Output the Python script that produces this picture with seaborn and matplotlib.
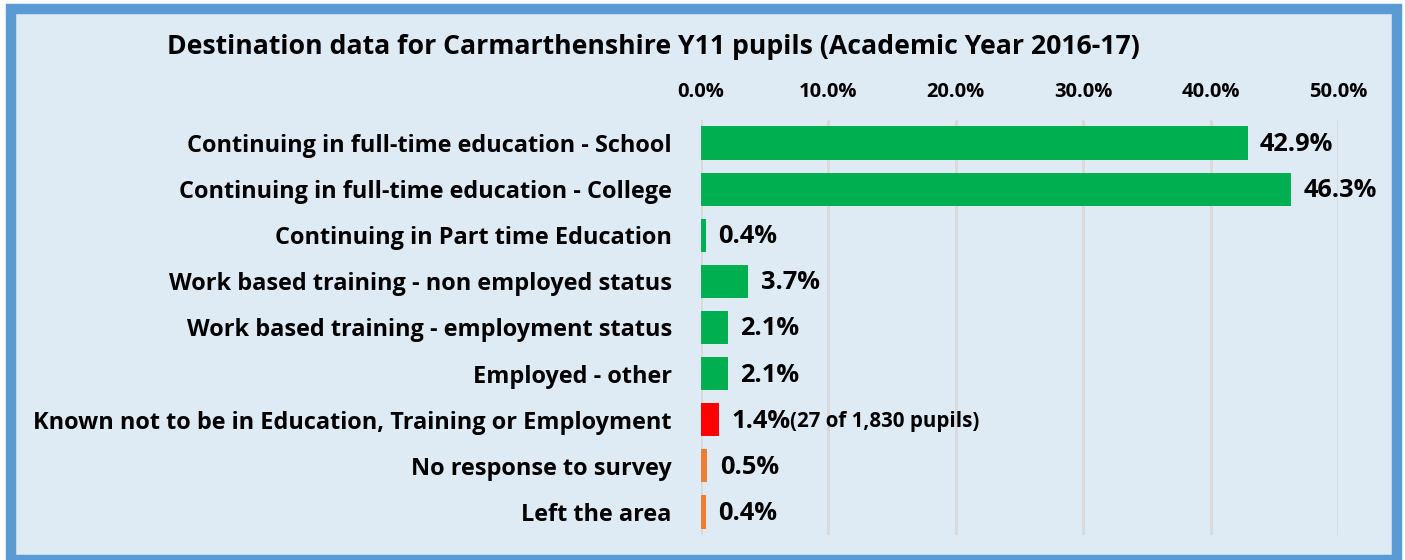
import matplotlib
matplotlib.use("Agg")
import matplotlib.pyplot as plt
from matplotlib.patches import Rectangle
import pandas as pd
import seaborn as sns

categories = [
    "Continuing in full-time education - School",
    "Continuing in full-time education - College",
    "Continuing in Part time Education",
    "Work based training - non employed status",
    "Work based training - employment status",
    "Employed - other",
    "Known not to be in Education, Training or Employment",
    "No response to survey",
    "Left the area",
]
values = [42.9, 46.3, 0.4, 3.7, 2.1, 2.1, 1.4, 0.5, 0.4]
bar_colors = ["#00B050"] * 6 + ["#FF0000"] + ["#ED7D31"] * 2
extra_note = {6: "(27 of 1,830 pupils)"}
ticks = [0, 10, 20, 30, 40, 50]

df = pd.DataFrame({"Category": categories, "Value": values})

sns.set_theme(style="white")
plt.rcParams["font.family"] = ["Open Sans", "DejaVu Sans"]
plt.rcParams["font.weight"] = "bold"
plt.rcParams["text.color"] = "black"
plt.rcParams["xtick.color"] = "black"
plt.rcParams["ytick.color"] = "black"

bg = "#DEEAF4"
fig = plt.figure(figsize=(14.05, 5.6), dpi=100)
fig.patch.set_facecolor("white")

# blue frame around the chart
W, H = 1405, 560
frame = Rectangle((10.5 / W, 0), (1396.5 - 10.5) / W, (H - 9) / H,
                  transform=fig.transFigure, facecolor=bg, edgecolor="#5B9BD5",
                  linewidth=7.5, zorder=-10)
fig.patches.append(frame)

ax = fig.add_axes([701 / W, 1 - 535 / H, (1338 - 701) / W, (535 - 120) / H])
ax.set_facecolor("none")

sns.barplot(data=df, x="Value", y="Category", hue="Category",
            palette=bar_colors, legend=False, width=0.72, ax=ax,
            saturation=1, linewidth=0, zorder=3)

ax.set_xlim(0, 50)
ax.set_xticks(ticks)
ax.set_xticklabels([f"{t:.1f}%" for t in ticks], fontsize=14.5, fontweight="bold")
ax.xaxis.tick_top()
ax.tick_params(axis="x", length=0, pad=13)
ax.tick_params(axis="y", length=0, pad=21)
for lab in ax.get_yticklabels():
    lab.set_fontsize(16.9)
    lab.set_fontweight("bold")
ax.set_xlabel("")
ax.set_ylabel("")
ax.xaxis.grid(True, color="#D9D9D9", linewidth=2, zorder=0)
ax.set_axisbelow(True)
for s in ax.spines.values():
    s.set_visible(False)

for i, v in enumerate(values):
    t = ax.annotate(f"{v:.1f}%", (v, i), xytext=(9, -1), textcoords="offset points",
                    ha="left", va="center", fontsize=18.3, fontweight="bold",
                    annotation_clip=False)
    if i in extra_note:
        ax.annotate(extra_note[i], (1, 0.5), xycoords=t, ha="left", va="center",
                    fontsize=14.8, fontweight="bold")

fig.text(653 / W, 1 - 47 / H,
         "Destination data for Carmarthenshire Y11 pupils (Academic Year 2016-17)",
         ha="center", va="center", fontsize=19.2, fontweight="bold")

fig.savefig("out.png", dpi=100, facecolor=fig.get_facecolor())
